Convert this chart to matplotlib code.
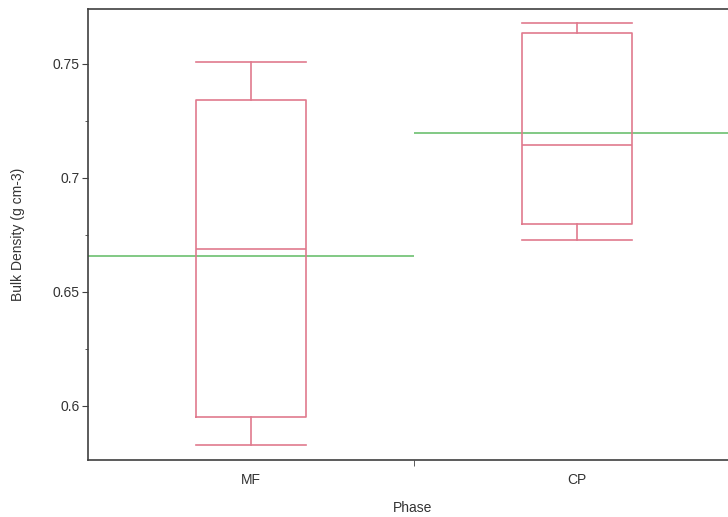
import numpy as np
import matplotlib.pyplot as plt

phases = ['MF', 'CP']
whislo = [0.583, 0.673]
q1 = [0.595, 0.680]
med = [0.669, 0.7145]
q3 = [0.734, 0.7636]
whishi = [0.751, 0.768]
means = [0.6658, 0.7197]

plt.rcParams['font.family'] = ['Liberation Sans Narrow', 'Liberation Sans', 'DejaVu Sans']

fig = plt.figure(figsize=(7.28, 5.17), dpi=100)
ax = fig.add_axes([88 / 728, 1 - 460 / 517, (740 - 88) / 728, (460 - 9) / 517])

stats = []
for i, p in enumerate(phases):
    stats.append(dict(label=p, whislo=whislo[i], q1=q1[i], med=med[i],
                      q3=q3[i], whishi=whishi[i], fliers=[]))

red = '#e07a8e'
ax.bxp(stats, positions=range(len(phases)), widths=0.34, showfliers=False,
       boxprops=dict(color=red, lw=1.2),
       medianprops=dict(color=red, lw=1.2),
       whiskerprops=dict(color=red, lw=1.2),
       capprops=dict(color=red, lw=1.2),
       capwidths=0.34)

for i, m in enumerate(means):
    ax.hlines(m, i - 0.5, i + 0.5, color='#6cc070', lw=1.2, zorder=1)

ax.set_xlim(-0.5, 1.5)
ax.set_ylim(0.5763, 0.7741)
ax.set_yticks([0.6, 0.65, 0.7, 0.75])
ax.set_yticklabels(['0.6', '0.65', '0.7', '0.75'])
ax.set_yticks([0.625, 0.675, 0.725], minor=True)

ax.set_xticks([0, 1])
ax.set_xticklabels(phases)
ax.tick_params(axis='x', length=0, pad=9)
ax.set_xticks([0.5, 1.5], minor=True)
ax.tick_params(axis='x', which='minor', length=4, color='#404040')
ax.tick_params(axis='y', which='major', length=4, color='#404040', pad=2)
ax.tick_params(axis='y', which='minor', length=2, color='#404040')
ax.tick_params(labelsize=10, labelcolor='#333333')

for s in ax.spines.values():
    s.set_color('#404040')
    s.set_linewidth(1.2)
ax.spines['right'].set_visible(False)

ax.set_xlabel('Phase', fontsize=10, color='#333333')
ax.set_ylabel('Bulk Density (g cm-3)', fontsize=10, color='#333333')
ax.xaxis.set_label_coords((413 - 88) / (740 - 88), -0.09)
ax.yaxis.set_label_coords(-(88 - 25) / (740 - 88), 0.5)

fig.savefig('out.png', dpi=100)
